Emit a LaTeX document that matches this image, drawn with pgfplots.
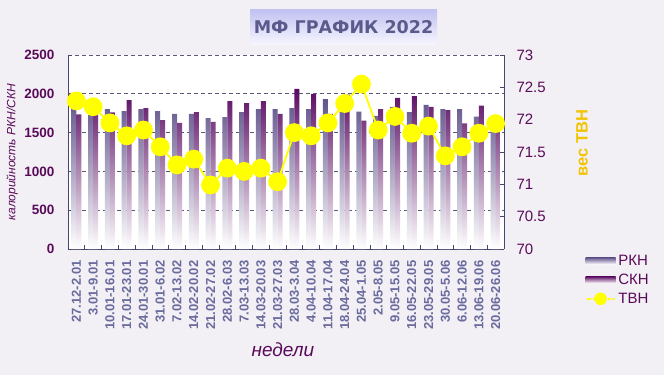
\documentclass[border=0pt]{standalone}
\usepackage{fontspec}
\setmainfont{Liberation Sans}
\newfontfamily\titlefont{DejaVu Sans}
\usepackage{pgfplots}
\pgfplotsset{compat=1.18}
\definecolor{bg}{HTML}{F2F0F4}
\definecolor{rkh}{HTML}{62548C}
\definecolor{skh}{HTML}{5A0A62}
\definecolor{axcol}{HTML}{46466E}
\definecolor{gridcol}{HTML}{5A5A78}
\definecolor{xtickcol}{HTML}{6A6A9E}
\definecolor{dpurple}{HTML}{5A0A5A}
\definecolor{gold}{HTML}{F2C400}
\definecolor{tvn}{HTML}{FFFF00}
\definecolor{titletop}{HTML}{C2C2F2}
\definecolor{titlebot}{HTML}{F6F6FE}
\definecolor{titletext}{HTML}{5A5A8C}
\begin{document}
\begin{tikzpicture}[x=1pt,y=1pt]
\path[use as bounding box, fill=bg] (0,0) rectangle (664,375);
\node[top color=titletop, bottom color=titlebot, minimum width=187pt, minimum height=35pt, inner sep=0pt] at (343.5,347.5) {};
\node[text=titletext, font=\titlefont\bfseries\fontsize{17.5}{20}\selectfont] at (343.5,348) {МФ ГРАФИК 2022};

\begin{axis}[
  at={(68pt,126pt)}, anchor=south west,
  scale only axis, width=436pt, height=194pt,
  xmin=-0.5, xmax=25.5, ymin=0, ymax=2500,
  ybar=0pt, bar width=5pt,
  axis x line*=bottom, axis y line*=left,
  axis line style={-, draw=axcol, line width=0.8pt},
  axis background/.style={fill=white},
  tick align=inside,
  major tick length=4pt, minor tick length=4pt,
  tick style={draw=axcol, line width=0.6pt},
  major x tick style={draw=none},
  xtick={0,...,25},
  minor xtick={-0.5,0.5,...,25.5},
  xticklabels={27.12-2.01,3.01-9.01,10.01-16.01,17.01-23.01,24.01-30.01,31.01-6.02,7.02-13.02,14.02-20.02,21.02-27.02,28.02-6.03,7.03-13.03,14.03-20.03,21.03-27.03,28.03-3.04,4.04-10.04,11.04-17.04,18.04-24.04,25.04-1.05,2.05-8.05,9.05-15.05,16.05-22.05,23.05-29.05,30.05-5.06,6.06-12.06,13.06-19.06,20.06-26.06},
  xticklabel style={rotate=90, anchor=east, text=xtickcol, font=\bfseries\fontsize{13}{15}\selectfont},
  xticklabel shift=8pt,
  ytick={0,500,...,2500},
  ymajorgrids,
  grid style={dash pattern=on 4pt off 3pt, draw=gridcol, line width=0.7pt},
  yticklabel style={text=dpurple, font=\bfseries\fontsize{13.5}{16}\selectfont, xshift=-10pt},
  /pgf/number format/assume math mode=true,
  /pgf/number format/1000 sep={},
  xlabel={недели},
  every axis x label/.style={at={(axis description cs:0.493,-0.52)}, anchor=center, text=dpurple, font=\itshape\fontsize{19}{22}\selectfont},
  ylabel={калорийность РКН/СКН},
  every axis y label/.style={at={(axis description cs:-0.128,0.5)}, anchor=center, rotate=90, text=dpurple, font=\itshape\fontsize{12}{14}\selectfont},
  legend style={at={(axis description cs:1.185,-0.02)}, anchor=north west, draw=none, fill=none, font=\fontsize{15}{17}\selectfont, text=dpurple, row sep=3pt, inner sep=0pt, /tikz/every even column/.append style={column sep=4pt}},
  legend cell align=left,
]
\addplot[draw=none, top color=rkh, bottom color=white,
  legend image code/.code={\path[top color=rkh, bottom color=white] (0pt,-3.5pt) rectangle (30pt,3.5pt);}]
  coordinates {(0,1815) (1,1730) (2,1804) (3,1778) (4,1804) (5,1778) (6,1740) (7,1740) (8,1688) (9,1701) (10,1765) (11,1804) (12,1804) (13,1817) (14,1804) (15,1933) (16,1770) (17,1770) (18,1714) (19,1830) (20,1765) (21,1856) (22,1804) (23,1804) (24,1705) (25,1640)};
\addlegendentry{РКН}
\addplot[draw=none, top color=skh, bottom color=white,
  legend image code/.code={\path[top color=skh, bottom color=white] (0pt,-3.5pt) rectangle (30pt,3.5pt);}]
  coordinates {(0,1735) (1,1790) (2,1760) (3,1920) (4,1817) (5,1662) (6,1624) (7,1765) (8,1637) (9,1907) (10,1881) (11,1907) (12,1740) (13,2062) (14,1997) (15,1740) (16,1990) (17,1653) (18,1804) (19,1946) (20,1971) (21,1830) (22,1791) (23,1620) (24,1847) (25,1620)};
\addlegendentry{СКН}
\addlegendimage{legend image code/.code={\draw[tvn, line width=1.5pt, dash pattern=on 1.5pt off 1pt] (0pt,0pt) -- (30pt,0pt); \fill[tvn] (15pt,0pt) circle (6pt);}}
\addlegendentry{ТВН}
\end{axis}

\begin{axis}[
  at={(68pt,126pt)}, anchor=south west,
  scale only axis, width=436pt, height=194pt,
  xmin=-0.5, xmax=25.5, ymin=70, ymax=73,
  axis x line=none, axis y line*=right,
  axis line style={-, draw=axcol, line width=0.8pt},
  tick align=inside, major tick length=4pt,
  tick style={draw=axcol, line width=0.6pt},
  ytick={70,70.5,71,71.5,72,72.5,73},
  yticklabel style={text=dpurple, font=\fontsize{15}{17}\selectfont, xshift=9pt},
  /pgf/number format/assume math mode=true,
  ylabel={вес ТВН},
  every axis y label/.style={at={(axis description cs:1.179,0.546)}, anchor=center, rotate=90, text=gold, font=\bfseries\fontsize{16.5}{19}\selectfont},
  clip=false,
]
\addplot[tvn, line width=1.8pt, mark=*, mark size=8.5pt, mark options={fill=tvn, draw=none}]
  coordinates {(0,72.29) (1,72.20) (2,71.95) (3,71.75) (4,71.84) (5,71.58) (6,71.30) (7,71.39) (8,70.99) (9,71.25) (10,71.20) (11,71.25) (12,71.04) (13,71.80) (14,71.75) (15,71.95) (16,72.25) (17,72.55) (18,71.84) (19,72.05) (20,71.79) (21,71.90) (22,71.44) (23,71.58) (24,71.79) (25,71.94)};
\end{axis}
\end{tikzpicture}
\end{document}
